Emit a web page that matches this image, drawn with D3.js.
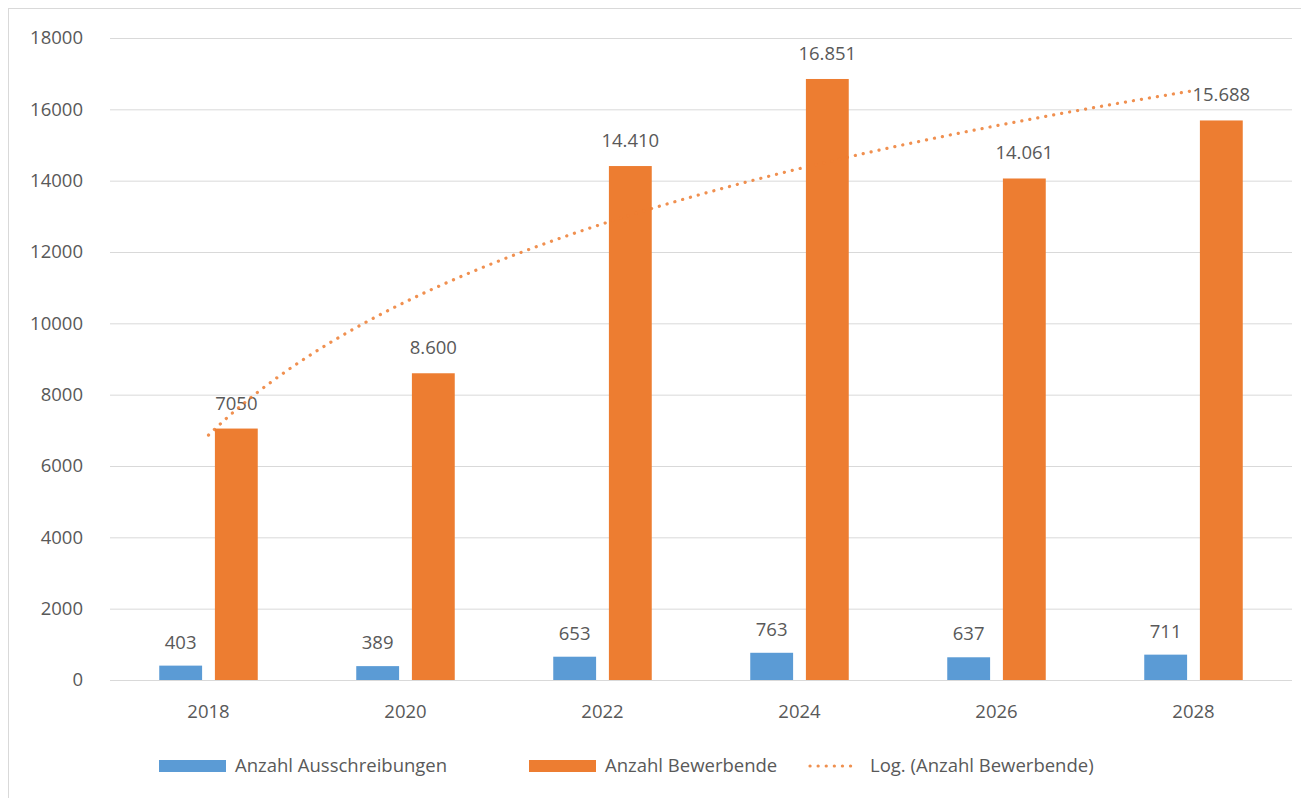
<!DOCTYPE html>
<html>
<head>
<meta charset="utf-8">
<script src="https://cdn.jsdelivr.net/npm/d3@7"></script>
<style>
  body { margin: 0; background: #fff; }
  svg { display: block; font-family: "Open Sans", sans-serif; }
</style>
</head>
<body>
<svg id="chart" width="1301" height="798"></svg>
<script>
const years = ["2018", "2020", "2022", "2024", "2026", "2028"];
const ausschreibungen = [403, 389, 653, 763, 637, 711];
const bewerbende = [7050, 8600, 14410, 16851, 14061, 15688];
const ausLabels = ["403", "389", "653", "763", "637", "711"];
const bewLabels = ["7050", "8.600", "14.410", "16.851", "14.061", "15.688"];
const yTicks = [0, 2000, 4000, 6000, 8000, 10000, 12000, 14000, 16000, 18000];
const seriesNames = ["Anzahl Ausschreibungen", "Anzahl Bewerbende", "Log. (Anzahl Bewerbende)"];

const blue = "#5b9bd5";
const orange = "#ed7d31";
const textColor = "#595959";
const fontSize = 18.5;

const svg = d3.select("#chart");

// outer chart border
svg.append("rect")
  .attr("x", 8.5).attr("y", 8.5)
  .attr("width", 1320).attr("height", 800)
  .attr("fill", "none")
  .attr("stroke", "#d9d9d9");

const plotLeft = 110, plotRight = 1292, plotTop = 38, plotBottom = 680;

const y = d3.scaleLinear().domain([0, 18000]).range([plotBottom, plotTop]);
const x0 = d3.scaleBand().domain(years).range([plotLeft, plotRight]).padding(0);
const x1 = d3.scaleBand()
  .domain(["aus", "bew"])
  .range([x0.bandwidth() * 0.25, x0.bandwidth() * 0.75])
  .paddingInner(0.23);

// gridlines + y labels
const yAxis = svg.append("g")
  .attr("transform", `translate(${plotLeft},0)`)
  .call(d3.axisLeft(y).tickValues(yTicks).tickFormat(d3.format("d"))
    .tickSize(-(plotRight - plotLeft)).tickPadding(27));
yAxis.select(".domain").remove();
yAxis.selectAll(".tick line").attr("stroke", "#d9d9d9");
yAxis.selectAll(".tick text")
  .attr("fill", textColor)
  .attr("font-size", fontSize)
  .attr("font-family", "Open Sans");

// x labels
const xAxis = svg.append("g")
  .attr("transform", `translate(0,${plotBottom})`)
  .call(d3.axisBottom(x0).tickSize(0).tickPadding(25));
xAxis.select(".domain").remove();
xAxis.selectAll(".tick text")
  .attr("fill", textColor)
  .attr("font-size", fontSize)
  .attr("font-family", "Open Sans");

const rows = years.map((yr, i) => ({
  year: yr, aus: ausschreibungen[i], bew: bewerbende[i],
  ausLabel: ausLabels[i], bewLabel: bewLabels[i]
}));

const groups = svg.append("g").selectAll("g")
  .data(rows).join("g")
  .attr("transform", (d) => `translate(${x0(d.year)},0)`);

groups.append("rect")
  .attr("x", x1("aus"))
  .attr("width", x1.bandwidth())
  .attr("y", (d) => y(d.aus))
  .attr("height", (d) => y(0) - y(d.aus))
  .attr("fill", blue);

groups.append("rect")
  .attr("x", x1("bew"))
  .attr("width", x1.bandwidth())
  .attr("y", (d) => y(d.bew))
  .attr("height", (d) => y(0) - y(d.bew))
  .attr("fill", orange);

// trend line: logarithmic fit of Bewerbende, like Excel's Log. trendline
const lnX = bewerbende.map((v, i) => Math.log(i + 1));
const mx = d3.mean(lnX), my = d3.mean(bewerbende);
const slope = d3.sum(lnX, (l, i) => (l - mx) * (bewerbende[i] - my)) / d3.sum(lnX, (l) => (l - mx) ** 2);
const intercept = my - slope * mx;
const xc = d3.scaleLinear().domain([1, years.length])
  .range([x0(years[0]) + x0.bandwidth() / 2, x0(years[years.length - 1]) + x0.bandwidth() / 2]);
const trend = d3.range(1, years.length + 0.001, 0.05)
  .map((t) => ({ t: t, v: intercept + slope * Math.log(t) }));

svg.append("path")
  .datum(trend)
  .attr("d", d3.line().x((d) => xc(d.t)).y((d) => y(d.v)))
  .attr("fill", "none")
  .attr("stroke", orange)
  .attr("stroke-width", 3.2)
  .attr("stroke-linecap", "round")
  .attr("stroke-dasharray", "0.1 8")
  .attr("opacity", 0.85);

// data labels
groups.append("text")
  .attr("x", x1("aus") + x1.bandwidth() / 2)
  .attr("y", (d) => y(d.aus) - 17)
  .attr("text-anchor", "middle")
  .attr("fill", textColor)
  .attr("font-size", fontSize)
  .text((d) => d.ausLabel);

groups.append("text")
  .attr("x", x1("bew") + x1.bandwidth() / 2)
  .attr("y", (d) => y(d.bew) - 19)
  .attr("text-anchor", "middle")
  .attr("fill", textColor)
  .attr("font-size", fontSize)
  .text((d) => d.bewLabel);

// legend
const legend = svg.append("g").attr("transform", "translate(0,766)");
const legendItems = [
  { name: seriesNames[0], x: 159, type: "bar", color: blue },
  { name: seriesNames[1], x: 529, type: "bar", color: orange },
  { name: seriesNames[2], x: 808, type: "dot", color: orange }
];
legendItems.forEach((it) => {
  if (it.type === "bar") {
    legend.append("rect")
      .attr("x", it.x).attr("y", -6)
      .attr("width", 67).attr("height", 12)
      .attr("fill", it.color);
  } else {
    legend.append("line")
      .attr("x1", it.x + 2).attr("x2", it.x + 50)
      .attr("y1", 0).attr("y2", 0)
      .attr("stroke", it.color)
      .attr("stroke-width", 3.2)
      .attr("stroke-linecap", "round")
      .attr("stroke-dasharray", "0.1 8")
      .attr("opacity", 0.85);
  }
  legend.append("text")
    .attr("x", it.x + (it.type === "bar" ? 76 : 62))
    .attr("y", 0)
    .attr("dy", "0.35em")
    .attr("fill", textColor)
    .attr("font-size", fontSize)
    .text(it.name);
});
</script>
</body>
</html>
